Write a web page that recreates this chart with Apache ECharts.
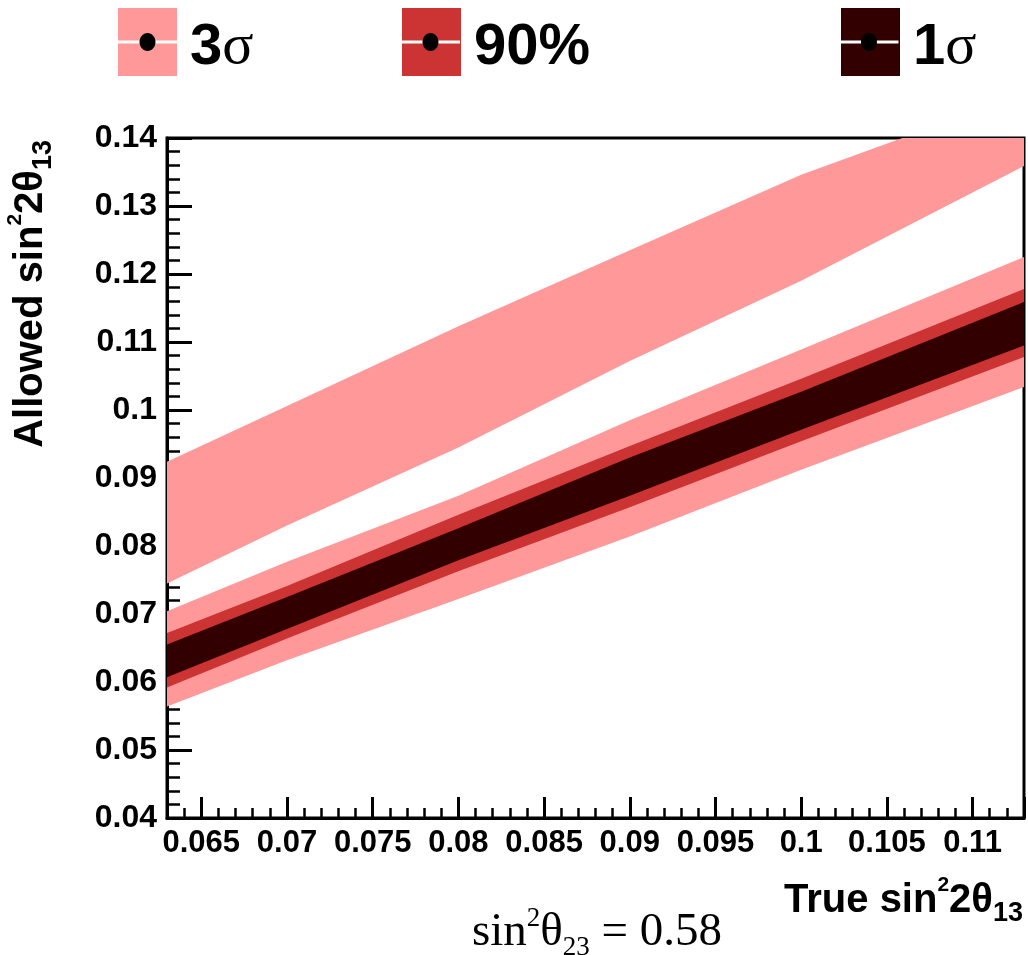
<!DOCTYPE html>
<html><head><meta charset="utf-8">
<script src="https://cdn.jsdelivr.net/npm/echarts@6/dist/echarts.min.js"></script>
<style>html,body{margin:0;padding:0;background:#fff}#c{width:1028px;height:955px}</style>
</head><body><div id="c"></div>
<script>
// True sin^2 2theta13 sample positions
const trueX = [0.063, 0.070, 0.080, 0.090, 0.100, 0.113];
// 3 sigma, upper (disconnected) island
const sig3UpLow  = [0.0745, 0.0830, 0.0945, 0.1072, 0.1190, 0.1359];
const sig3UpHigh = [0.0924, 0.1006, 0.1123, 0.1235, 0.1346, 0.1465];
// 3 sigma, main band
const sig3LoLow  = [0.0564, 0.0632, 0.0722, 0.0814, 0.0912, 0.1034];
const sig3LoHigh = [0.0704, 0.0777, 0.0874, 0.0985, 0.1089, 0.1225];
// 90% CL
const cl90Low  = [0.0592, 0.0664, 0.0763, 0.0857, 0.0954, 0.1078];
const cl90High = [0.0672, 0.0741, 0.0846, 0.0947, 0.1046, 0.1178];
// 1 sigma
const sig1Low  = [0.0607, 0.0678, 0.0779, 0.0874, 0.0971, 0.1095];
const sig1High = [0.0655, 0.0725, 0.0826, 0.0930, 0.1027, 0.1159];

const legendNames = ['3σ', '90%', '1σ'];
const colors = ['#ff9999', '#cc3333', '#330000'];

const SANS = "'Liberation Sans', Arial, sans-serif";
const SERIF = "'Liberation Serif', 'Times New Roman', serif";

function bandPoints(api, lows, highs) {
  const pts = [];
  for (let i = 0; i < trueX.length; i++) pts.push(api.coord([trueX[i], lows[i]]));
  for (let i = trueX.length - 1; i >= 0; i--) pts.push(api.coord([trueX[i], highs[i]]));
  return pts;
}
function bandSeries(name, color, bands) {
  return {
    type: 'custom', name: name, clip: true, silent: true,
    itemStyle: { color: color },
    encode: { x: 0, y: 1 },
    data: [[trueX[0], bands[0][0][0]]],
    renderItem: function (params, api) {
      return {
        type: 'group',
        children: bands.map(b => ({
          type: 'polygon',
          shape: { points: bandPoints(api, b[0], b[1]) },
          style: { fill: color }
        }))
      };
    }
  };
}

const legendBase = {
  top: 8, padding: 0, itemWidth: 59, itemHeight: 68, icon: 'rect',
  selectedMode: false,
  formatter: n => n.replace('σ', '{s|σ}'),
  textStyle: {
    fontSize: 58, fontWeight: 'bold', fontFamily: SANS, color: '#000', padding: [12, 0, 0, 8],
    rich: { s: { fontSize: 58, fontWeight: 'normal', fontFamily: SERIF, color: '#000' } }
  }
};
const legendLefts = [118, 402, 841];

function legendDeco(cx) {
  return [
    { type: 'line', shape: { x1: cx - 29.5, y1: 42, x2: cx + 29.5, y2: 42 }, style: { stroke: '#fff', lineWidth: 3 }, z: 100 },
    { type: 'ellipse', shape: { cx: cx, cy: 42, rx: 8, ry: 9 }, style: { fill: '#000' }, z: 101 }
  ];
}

const titleRich = {
  sup: { fontSize: 21, fontWeight: 'bold', fontFamily: SANS, fill: '#000', verticalAlign: 'top', lineHeight: 38 },
  sub: { fontSize: 27, fontWeight: 'bold', fontFamily: SANS, fill: '#000', verticalAlign: 'bottom', lineHeight: 30 }
};

const chart = echarts.init(document.getElementById('c'), null, { renderer: 'canvas' });
chart.setOption({
  animation: false,
  backgroundColor: '#fff',
  legend: legendNames.map((n, i) => Object.assign({}, legendBase, { data: [n], left: legendLefts[i] })),
  grid: { left: 167, right: 4, top: 138, bottom: 137, containLabel: false, outerBoundsMode: 'none',
          show: true, borderColor: '#000', borderWidth: 3, backgroundColor: 'transparent' },
  xAxis: {
    type: 'value', min: 0.063, max: 0.113, splitNumber: 10,
    axisLine: { show: true, lineStyle: { color: '#000', width: 3 } },
    axisTick: { show: true, inside: true, length: 21, lineStyle: { color: '#000', width: 3 } },
    minorTick: { show: true, splitNumber: 5, length: 10, lineStyle: { color: '#000', width: 2.5 } },
    splitLine: { show: false },
    axisLabel: { showMinLabel: false, showMaxLabel: false, hideOverlap: false, margin: 10, fontSize: 31, fontWeight: 'bold', fontFamily: SANS, color: '#000' }
  },
  yAxis: {
    type: 'value', min: 0.04, max: 0.14, interval: 0.01,
    axisLine: { show: true, lineStyle: { color: '#000', width: 3 } },
    axisTick: { show: true, inside: true, length: 25, lineStyle: { color: '#000', width: 3 } },
    minorTick: { show: true, splitNumber: 5, length: 13, lineStyle: { color: '#000', width: 2.5 } },
    splitLine: { show: false },
    axisLabel: { margin: 10, fontSize: 32, fontWeight: 'bold', fontFamily: SANS, color: '#000', padding: [8, 0, 0, 0] }
  },
  graphic: [].concat(
    legendDeco(147.5), legendDeco(430.5), legendDeco(869),
    [{
      // x-axis title
      type: 'text', z: 100, x: 1023, y: 927,
      style: {
        text: 'True sin{sup|2}2θ{sub|13}', align: 'right', verticalAlign: 'bottom',
        fontSize: 40, fontWeight: 'bold', fontFamily: SANS, fill: '#000', lineHeight: 52,
        rich: titleRich
      }
    }, {
      // y-axis title
      type: 'text', z: 100, x: 57, y: 140, rotation: Math.PI / 2,
      style: {
        text: 'Allowed sin{sup|2}2θ{sub|13}', align: 'right', verticalAlign: 'bottom',
        fontSize: 40, fontWeight: 'bold', fontFamily: SANS, fill: '#000', lineHeight: 52,
        rich: titleRich
      }
    }, {
      type: 'text', z: 100, x: 597, y: 961,
      style: {
        align: 'center', verticalAlign: 'bottom',
        text: 'sin{sup|2}θ{sub|23} = 0.58',
        fontSize: 47, fontFamily: SERIF, fill: '#000', lineHeight: 56,
        rich: {
          sup: { fontSize: 27, fontFamily: SERIF, fill: '#000', verticalAlign: 'top', lineHeight: 30 },
          sub: { fontSize: 27, fontFamily: SERIF, fill: '#000', verticalAlign: 'bottom', lineHeight: 30 }
        }
      }
    }]
  ),
  series: [
    bandSeries(legendNames[0], colors[0], [[sig3LoLow, sig3LoHigh], [sig3UpLow, sig3UpHigh]]),
    bandSeries(legendNames[1], colors[1], [[cl90Low, cl90High]]),
    bandSeries(legendNames[2], colors[2], [[sig1Low, sig1High]])
  ]
});
</script>
</body></html>
